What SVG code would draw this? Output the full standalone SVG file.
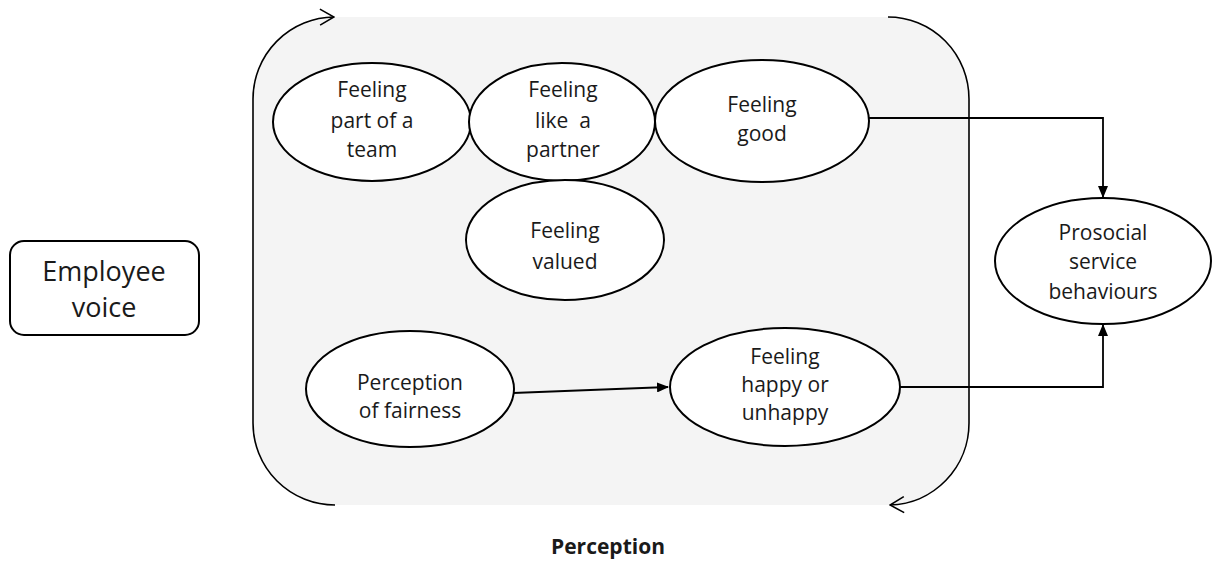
<svg xmlns="http://www.w3.org/2000/svg" width="1214" height="583" viewBox="0 0 1214 583">
<style>
.node{fill:#ffffff;stroke:#000000;stroke-width:2}
.t{font-family:"Open Sans","DejaVu Sans",sans-serif;font-size:21px;fill:#1a1a1a;text-anchor:middle;white-space:pre}
.big{font-size:27px}
.bold{font-weight:bold;font-size:21px}
.line{fill:none;stroke:#000000;stroke-width:1.8}
.loop{fill:none;stroke:#000000;stroke-width:1.6}
</style>
<defs>
<marker id="arr" markerWidth="12" markerHeight="10" refX="11" refY="5" orient="auto" markerUnits="userSpaceOnUse">
<path d="M0,0 L12,5 L0,10 Z" fill="#000"/>
</marker>
<marker id="chev" markerWidth="16" markerHeight="18" refX="15" refY="9" orient="auto" markerUnits="userSpaceOnUse">
<path d="M1,1 L15,9 L1,17" fill="none" stroke="#000" stroke-width="1.6"/>
</marker>
</defs>
<rect x="0" y="0" width="1214" height="583" fill="#ffffff"/>
<g id="perception-area">
<rect x="253" y="17" width="716" height="488" rx="82" ry="82" fill="#f4f4f4"/>
<path class="loop" d="M335,505 A82,82 0 0 1 253,423 L253,99 A82,82 0 0 1 334,17" marker-end="url(#chev)"/>
<path class="loop" d="M888,17 A81,82 0 0 1 969,99 L969,423 A81,82 0 0 1 890,505" marker-end="url(#chev)"/>
</g>
<g id="connectors">
<path class="line" d="M869,118 L1103,118 L1103,197" marker-end="url(#arr)"/>
<path class="line" d="M900,387 L1103,387 L1103,325" marker-end="url(#arr)"/>
<path class="line" d="M513,393 L668,387" marker-end="url(#arr)"/>
</g>
<g id="employee-voice">
<rect class="node" x="10" y="241" width="189" height="94" rx="14" ry="14"/>
<text class="t big" x="104" y="281">Employee</text>
<text class="t big" x="104" y="317">voice</text>
</g>
<g id="feeling-team">
<ellipse class="node" cx="372" cy="122" rx="99" ry="59"/>
<text class="t" x="372" y="97">Feeling</text>
<text class="t" x="372" y="128">part of a</text>
<text class="t" x="372" y="157">team</text>
</g>
<g id="feeling-partner">
<ellipse class="node" cx="562" cy="122" rx="93" ry="59"/>
<text class="t" x="563" y="97">Feeling</text>
<text class="t" x="563" y="128">like  a</text>
<text class="t" x="563" y="157">partner</text>
</g>
<g id="feeling-good">
<ellipse class="node" cx="762" cy="121" rx="107" ry="61"/>
<text class="t" x="762" y="112">Feeling</text>
<text class="t" x="762" y="141">good</text>
</g>
<g id="feeling-valued">
<ellipse class="node" cx="565" cy="240" rx="99" ry="60"/>
<text class="t" x="565" y="238">Feeling</text>
<text class="t" x="565" y="269">valued</text>
</g>
<g id="perception-fairness">
<ellipse class="node" cx="410" cy="389" rx="104" ry="58"/>
<text class="t" x="410" y="390">Perception</text>
<text class="t" x="410" y="418">of fairness</text>
</g>
<g id="feeling-happy">
<ellipse class="node" cx="785" cy="387" rx="115" ry="59"/>
<text class="t" x="785" y="364">Feeling</text>
<text class="t" x="785" y="392">happy or</text>
<text class="t" x="785" y="420">unhappy</text>
</g>
<g id="prosocial">
<ellipse class="node" cx="1103" cy="261" rx="108" ry="63"/>
<text class="t" x="1103" y="240">Prosocial</text>
<text class="t" x="1103" y="269">service</text>
<text class="t" x="1103" y="299">behaviours</text>
</g>
<g id="label-perception">
<text class="t bold" x="608" y="554">Perception</text>
</g>
</svg>
